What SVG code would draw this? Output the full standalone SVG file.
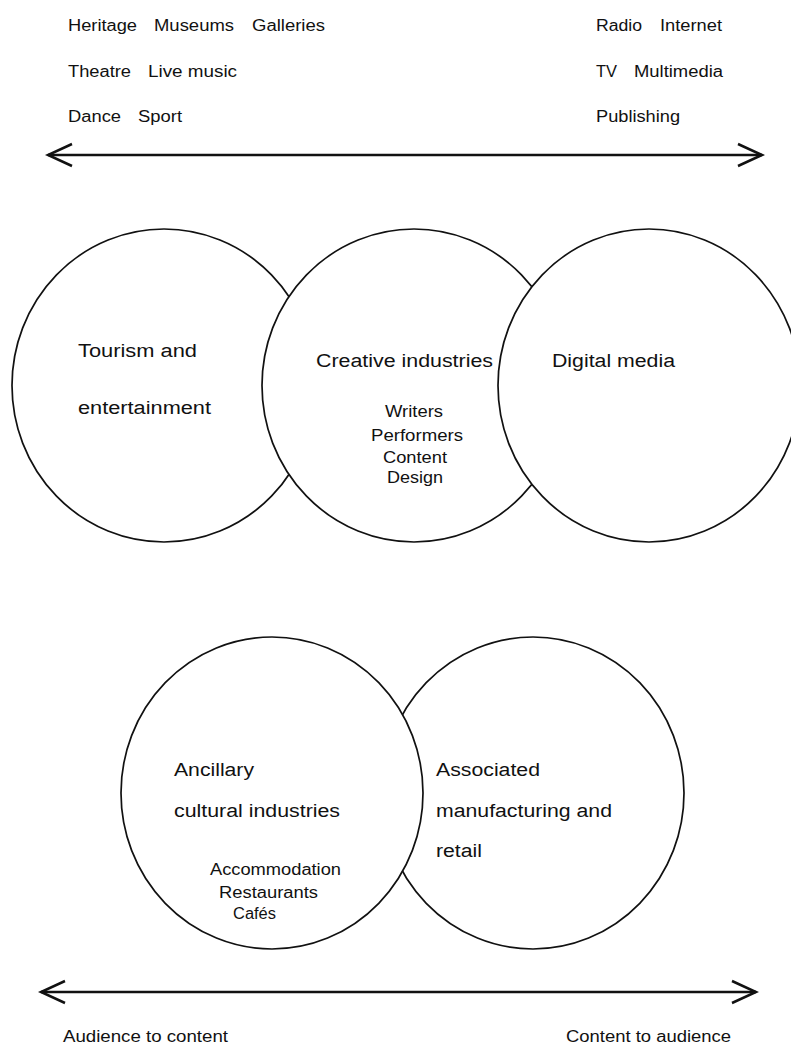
<svg xmlns="http://www.w3.org/2000/svg" width="791" height="1049" viewBox="0 0 791 1049">
<style>
text{font-family:"Liberation Sans",Arial,Helvetica,sans-serif;fill:#111;}
.s{font-size:16px;}
.b{font-size:18px;}
.c{fill:#fff;stroke:#111;stroke-width:1.7;}
.ar{stroke:#111;stroke-width:2.5;fill:none;}
</style>
<defs>
<marker id="arr" markerUnits="userSpaceOnUse" markerWidth="34" markerHeight="34" viewBox="-30 -17 34 34" refX="0" refY="0" orient="auto-start-reverse">
<path d="M-24,-11 L0,0 L-24,11" fill="none" stroke="#111" stroke-width="2.5"/>
</marker>
</defs>
<rect width="791" height="1049" fill="#fff"/>
<g id="top-left-list">
<text class="s" x="68" y="31" textLength="69" lengthAdjust="spacingAndGlyphs">Heritage</text>
<text class="s" x="154" y="31" textLength="80" lengthAdjust="spacingAndGlyphs">Museums</text>
<text class="s" x="252" y="31" textLength="73" lengthAdjust="spacingAndGlyphs">Galleries</text>
<text class="s" x="68" y="77" textLength="63" lengthAdjust="spacingAndGlyphs">Theatre</text>
<text class="s" x="148" y="77" textLength="89" lengthAdjust="spacingAndGlyphs">Live music</text>
<text class="s" x="68" y="122" textLength="53" lengthAdjust="spacingAndGlyphs">Dance</text>
<text class="s" x="138" y="122" textLength="44" lengthAdjust="spacingAndGlyphs">Sport</text>
</g>
<g id="top-right-list">
<text class="s" x="596" y="31" textLength="46" lengthAdjust="spacingAndGlyphs">Radio</text>
<text class="s" x="660" y="31" textLength="62" lengthAdjust="spacingAndGlyphs">Internet</text>
<text class="s" x="596" y="77" textLength="21" lengthAdjust="spacingAndGlyphs">TV</text>
<text class="s" x="634" y="77" textLength="89" lengthAdjust="spacingAndGlyphs">Multimedia</text>
<text class="s" x="596" y="122" textLength="84" lengthAdjust="spacingAndGlyphs">Publishing</text>
</g>
<g id="connectors">
<line class="ar" x1="48" y1="155" x2="762" y2="155" marker-start="url(#arr)" marker-end="url(#arr)"/>
<line class="ar" x1="41" y1="992" x2="756" y2="992" marker-start="url(#arr)" marker-end="url(#arr)"/>
</g>
<g id="tourism">
<ellipse class="c" cx="164" cy="385.5" rx="152" ry="156.5"/>
<text class="b" x="78" y="357" textLength="119" lengthAdjust="spacingAndGlyphs">Tourism and</text>
<text class="b" x="78" y="414" textLength="133" lengthAdjust="spacingAndGlyphs">entertainment</text>
</g>
<g id="creative">
<ellipse class="c" cx="414" cy="385.5" rx="152" ry="156.5"/>
<text class="b" x="316" y="367" textLength="177" lengthAdjust="spacingAndGlyphs">Creative industries</text>
<text class="s" x="385" y="417" textLength="58" lengthAdjust="spacingAndGlyphs">Writers</text>
<text class="s" x="371" y="441" textLength="92" lengthAdjust="spacingAndGlyphs">Performers</text>
<text class="s" x="383" y="463" textLength="64" lengthAdjust="spacingAndGlyphs">Content</text>
<text class="s" x="387" y="483" textLength="56" lengthAdjust="spacingAndGlyphs">Design</text>
</g>
<g id="digital">
<ellipse class="c" cx="649" cy="385.5" rx="151" ry="156.5"/>
<text class="b" x="552" y="367" textLength="123" lengthAdjust="spacingAndGlyphs">Digital media</text>
</g>
<g id="associated">
<ellipse class="c" cx="533" cy="793" rx="151" ry="156"/>
<text class="b" x="436" y="776" textLength="104" lengthAdjust="spacingAndGlyphs">Associated</text>
<text class="b" x="436" y="817" textLength="176" lengthAdjust="spacingAndGlyphs">manufacturing and</text>
<text class="b" x="436" y="857" textLength="46" lengthAdjust="spacingAndGlyphs">retail</text>
</g>
<g id="ancillary">
<ellipse class="c" cx="272" cy="793" rx="151" ry="156"/>
<text class="b" x="174" y="776" textLength="80" lengthAdjust="spacingAndGlyphs">Ancillary</text>
<text class="b" x="174" y="817" textLength="166" lengthAdjust="spacingAndGlyphs">cultural industries</text>
<text class="s" x="210" y="875" textLength="131" lengthAdjust="spacingAndGlyphs">Accommodation</text>
<text class="s" x="219" y="898" textLength="99" lengthAdjust="spacingAndGlyphs">Restaurants</text>
<text class="s" x="233" y="919" textLength="43" lengthAdjust="spacingAndGlyphs">Cafés</text>
</g>
<g id="axis-labels">
<text class="s" x="63" y="1042" textLength="165" lengthAdjust="spacingAndGlyphs">Audience to content</text>
<text class="s" x="566" y="1042" textLength="165" lengthAdjust="spacingAndGlyphs">Content to audience</text>
</g>
</svg>
